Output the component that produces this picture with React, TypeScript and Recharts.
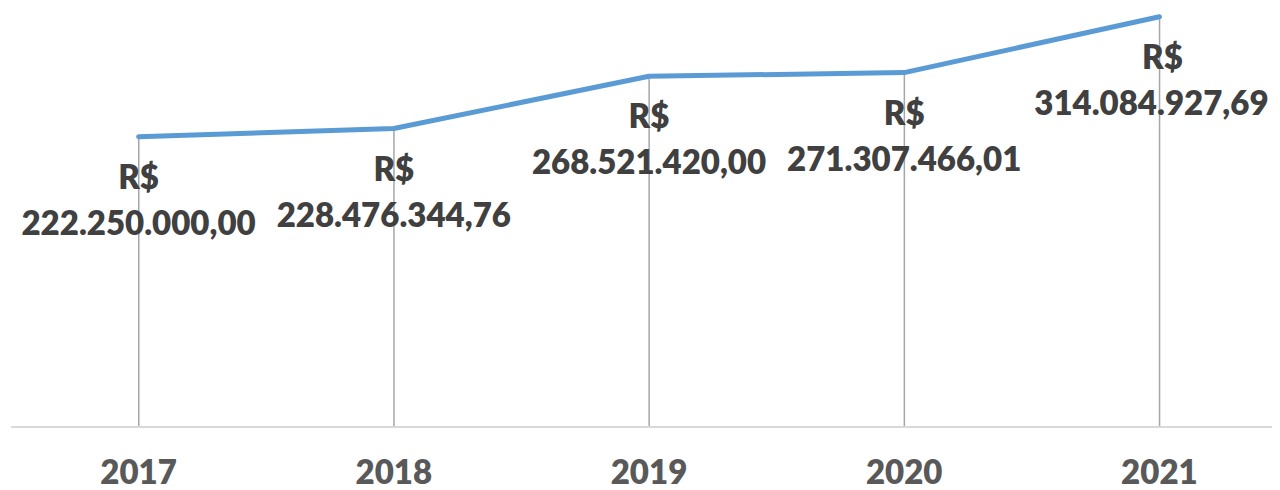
import React from "react";
import { ComposedChart, Line, Bar, XAxis, YAxis, LabelList } from "recharts";

const years = ["2017", "2018", "2019", "2020", "2021"];
const amounts = [222250000.0, 228476344.76, 268521420.0, 271307466.01, 314084927.69];

const data = years.map((year, i) => ({ year, value: amounts[i] }));

const FONT = "Lato, 'Open Sans', sans-serif";

function formatBR(v: number): string {
  const fixed = v.toFixed(2);
  const [intPart, dec] = fixed.split(".");
  const withDots = intPart.replace(/\B(?=(\d{3})+(?!\d))/g, ".");
  return `${withDots},${dec}`;
}

const ValueLabel = (props: any) => {
  const { x, y, width, value, index } = props;
  const cx = x + (width || 0) / 2;
  const isLast = index === amounts.length - 1;
  return (
    <text
      x={cx}
      y={y}
      textAnchor="middle"
      fill="#404040"
      fontFamily={FONT}
      fontWeight={800}
      fontSize={33}
    >
      <tspan x={isLast ? cx + 3 : cx} dy={52}>R$</tspan>
      <tspan x={isLast ? cx - 8 : cx} dy={46}>{formatBR(value)}</tspan>
    </text>
  );
};

const YearTick = (props: any) => {
  const { x, y, payload } = props;
  return (
    <text
      x={x}
      y={y}
      dy={57}
      textAnchor="middle"
      fill="#595959"
      fontFamily={FONT}
      fontWeight={800}
      fontSize={33}
    >
      {payload.value}
    </text>
  );
};

export default function App() {
  return (
    <div style={{ width: 1272, height: 482, overflow: "hidden" }}>
      <ComposedChart
        width={1279}
        height={482}
        data={data}
        margin={{ top: 1, right: 0, bottom: 0, left: 3 }}
      >
        <XAxis
          dataKey="year"
          height={63}
          tickLine={false}
          tickSize={0}
          tickMargin={0}
          axisLine={{ stroke: "#d9d9d9", strokeWidth: 2 }}
          tick={<YearTick />}
          interval={0}
        />
        <YAxis hide domain={[0, 320000000]} />
        <Bar dataKey="value" barSize={1.5} fill="#a6a6a6" isAnimationActive={false} />
        <Line
          type="linear"
          dataKey="value"
          stroke="#5b9bd5"
          strokeWidth={5}
          strokeLinecap="round"
          strokeLinejoin="round"
          dot={false}
          activeDot={false}
          isAnimationActive={false}
        >
          <LabelList dataKey="value" content={<ValueLabel />} />
        </Line>
      </ComposedChart>
    </div>
  );
}
